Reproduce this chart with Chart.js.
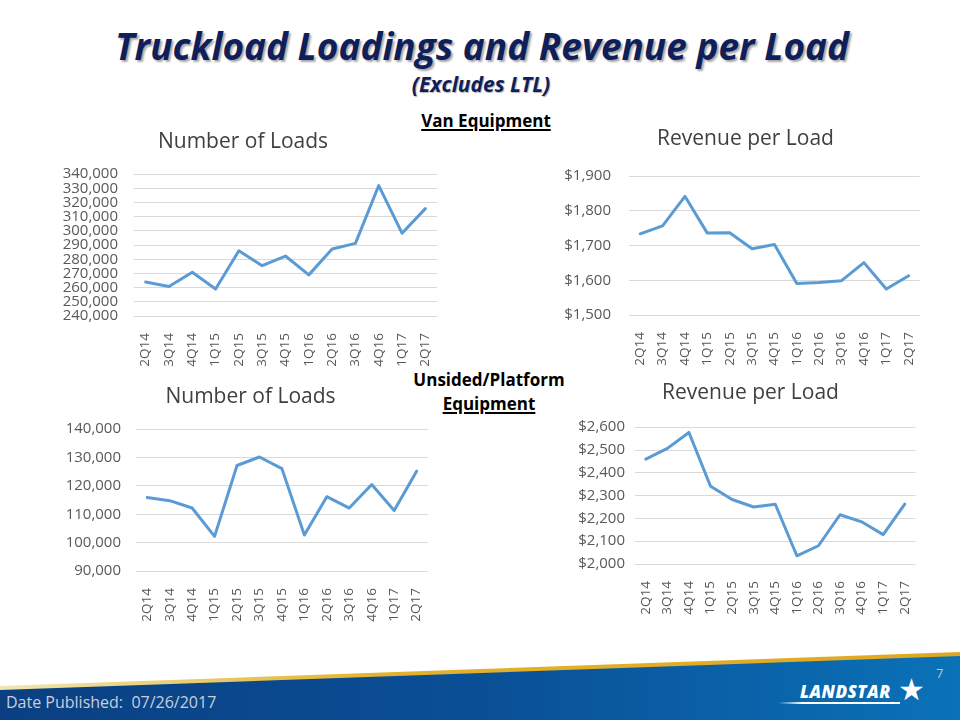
<!DOCTYPE html>
<html>
<head>
<meta charset="utf-8">
<script src="https://cdn.jsdelivr.net/npm/chart.js@4.4.1/dist/chart.umd.min.js"></script>
<style>
  html, body { margin: 0; padding: 0; }
  body { width: 960px; height: 720px; position: relative; overflow: hidden; background: #fff; font-family: 'Open Sans', sans-serif; }
  .abs { position: absolute; }
  #title { left: 0; width: 964px; top: 20px; text-align: center; font-weight: 700; font-style: italic; font-size: 37px; color: #0f1f5c; text-shadow: 2px 2px 2px rgba(0,0,0,0.35); white-space: nowrap; }
  #subtitle { left: 0; width: 962px; top: 70px; text-align: center; font-weight: 700; font-style: italic; font-size: 21px; color: #0f1f5c; text-shadow: 1px 1px 1px rgba(0,0,0,0.3); }
  .section { font-weight: 700; font-size: 17px; color: #000; text-align: center; line-height: 24px; }
  .section u { text-decoration-thickness: 2px; text-underline-offset: 2px; }
  canvas { position: absolute; }
  #band-gold { left: 0; top: 650px; width: 960px; height: 70px; background: linear-gradient(90deg, #f0e6b0, #e3b22a 40%, #e0a820); clip-path: polygon(0 36px, 100% 2px, 100% 100%, 0 100%); }
  #band { left: 0; top: 650px; width: 960px; height: 70px; background: linear-gradient(90deg, #0b3f82, #0a4f96 50%, #0a72b8); clip-path: polygon(0 40px, 100% 6px, 100% 100%, 0 100%); }
  #date { left: 6px; top: 691px; font-size: 16px; color: #c7cfdc; }
  #page { left: 936px; top: 664px; font-size: 13px; color: #b8c4d4; }
  #logo { left: 800px; top: 680px; font-size: 17px; font-weight: 800; font-style: italic; color: #fff; letter-spacing: 0.5px; }
  #star { left: 898px; top: 668px; font-size: 30px; color: #fff; }
  #swoosh { left: 778px; top: 702px; width: 122px; height: 2px; background: linear-gradient(90deg, rgba(255,255,255,0), #fff 20%); }
</style>
</head>
<body>
<div id="title" class="abs">Truckload Loadings and Revenue per Load</div>
<div id="subtitle" class="abs">(Excludes LTL)</div>
<div class="abs section" style="left:386px; top:109px; width:200px;"><u>Van Equipment</u></div>
<div class="abs section" style="left:389px; top:368px; width:200px;">Unsided/Platform<br><u>Equipment</u></div>

<canvas id="vanLoads" width="410" height="260" style="left:49px; top:120px;"></canvas>
<canvas id="vanRevenue" width="374" height="260" style="left:560px; top:120px;"></canvas>
<canvas id="platLoads" width="378" height="260" style="left:64px; top:375px;"></canvas>
<canvas id="platRevenue" width="358" height="260" style="left:572px; top:370px;"></canvas>

<div id="band-gold" class="abs"></div>
<div id="band" class="abs"></div>
<div id="date" class="abs">Date Published:&nbsp; 07/26/2017</div>
<div id="page" class="abs">7</div>
<div id="swoosh" class="abs"></div>
<div id="logo" class="abs">LANDSTAR</div>
<div id="star" class="abs">★</div>

<script>
// quarters on the x axis
const quarters = ['2Q14', '3Q14', '4Q14', '1Q15', '2Q15', '3Q15', '4Q15', '1Q16', '2Q16', '3Q16', '4Q16', '1Q17', '2Q17'];

// Van equipment
const vanLoads = [264000, 260800, 270800, 259000, 286000, 275500, 282300, 269000, 287200, 291200, 332000, 298400, 315700];
const vanRevenue = [1734, 1757, 1842, 1736, 1737, 1691, 1703, 1591, 1594, 1599, 1651, 1575, 1613];

// Unsided/Platform equipment
const platLoads = [115900, 114800, 112200, 102200, 127200, 130200, 126100, 102700, 116200, 112200, 120500, 111300, 125200];
const platRevenue = [2460, 2507, 2577, 2341, 2283, 2250, 2262, 2036, 2080, 2216, 2185, 2129, 2263];

// axis ranges
const vanLoadsAxis = { min: 240000, max: 340000, step: 10000 };
const vanRevenueAxis = { min: 1500, max: 1900, step: 100 };
const platLoadsAxis = { min: 90000, max: 140000, step: 10000 };
const platRevenueAxis = { min: 2000, max: 2600, step: 100 };

Chart.defaults.font.family = "'Open Sans', sans-serif";
Chart.defaults.color = '#595959';

const LINE = '#5b9bd5';
const GRID = '#d9d9d9';

function fmt(v, money) {
  const s = Number(v).toLocaleString('en-US');
  return money ? '$' + s : s;
}

function makeChart(id, title, values, axis, money, box) {
  const ctx = document.getElementById(id).getContext('2d');
  return new Chart(ctx, {
    type: 'line',
    data: {
      labels: quarters,
      datasets: [{
        data: values,
        borderColor: LINE,
        borderWidth: 3,
        pointRadius: 0,
        tension: 0,
        borderJoinStyle: 'round',
        borderCapStyle: 'round',
        fill: false,
      }],
    },
    options: {
      responsive: false,
      animation: false,
      devicePixelRatio: 1,
      layout: { padding: { left: 0, right: box.right, top: 0, bottom: 0 } },
      plugins: {
        legend: { display: false },
        tooltip: { enabled: false },
        title: {
          display: true,
          text: title,
          color: '#404040',
          font: { size: 21, weight: 'normal' },
          padding: { top: box.padTop, bottom: box.padBottom },
        },
      },
      scales: {
        x: {
          offset: true,
          grid: { display: false },
          border: { display: false },
          ticks: {
            autoSkip: false,
            minRotation: 90,
            maxRotation: 90,
            padding: 9,
            font: { size: 13.5 },
            color: '#595959',
          },
          afterFit(scale) { scale.height = box.xHeight; },
        },
        y: {
          min: axis.min,
          max: axis.max,
          grid: { color: GRID, lineWidth: 1, drawTicks: false },
          border: { display: false },
          ticks: {
            stepSize: axis.step,
            autoSkip: false,
            padding: box.yPad,
            font: { size: 15 },
            color: '#595959',
            callback: (v) => fmt(v, money),
          },
          afterFit(scale) { scale.width = box.yWidth; },
        },
      },
    },
  });
}

makeChart('vanLoads', 'Number of Loads', vanLoads, vanLoadsAxis, false,
  { right: 22, padTop: 9, padBottom: 20, xHeight: 64, yWidth: 85, yPad: 16 });
makeChart('vanRevenue', 'Revenue per Load', vanRevenue, vanRevenueAxis, true,
  { right: 3, padTop: 6, padBottom: 25, xHeight: 65, yWidth: 69, yPad: 18 });
makeChart('platLoads', 'Number of Loads', platLoads, platLoadsAxis, false,
  { right: 5, padTop: 9, padBottom: 20, xHeight: 64, yWidth: 72, yPad: 15 });
makeChart('platRevenue', 'Revenue per Load', platRevenue, platRevenueAxis, true,
  { right: 1, padTop: 10, padBottom: 22, xHeight: 66, yWidth: 63, yPad: 10 });
</script>
</body>
</html>
